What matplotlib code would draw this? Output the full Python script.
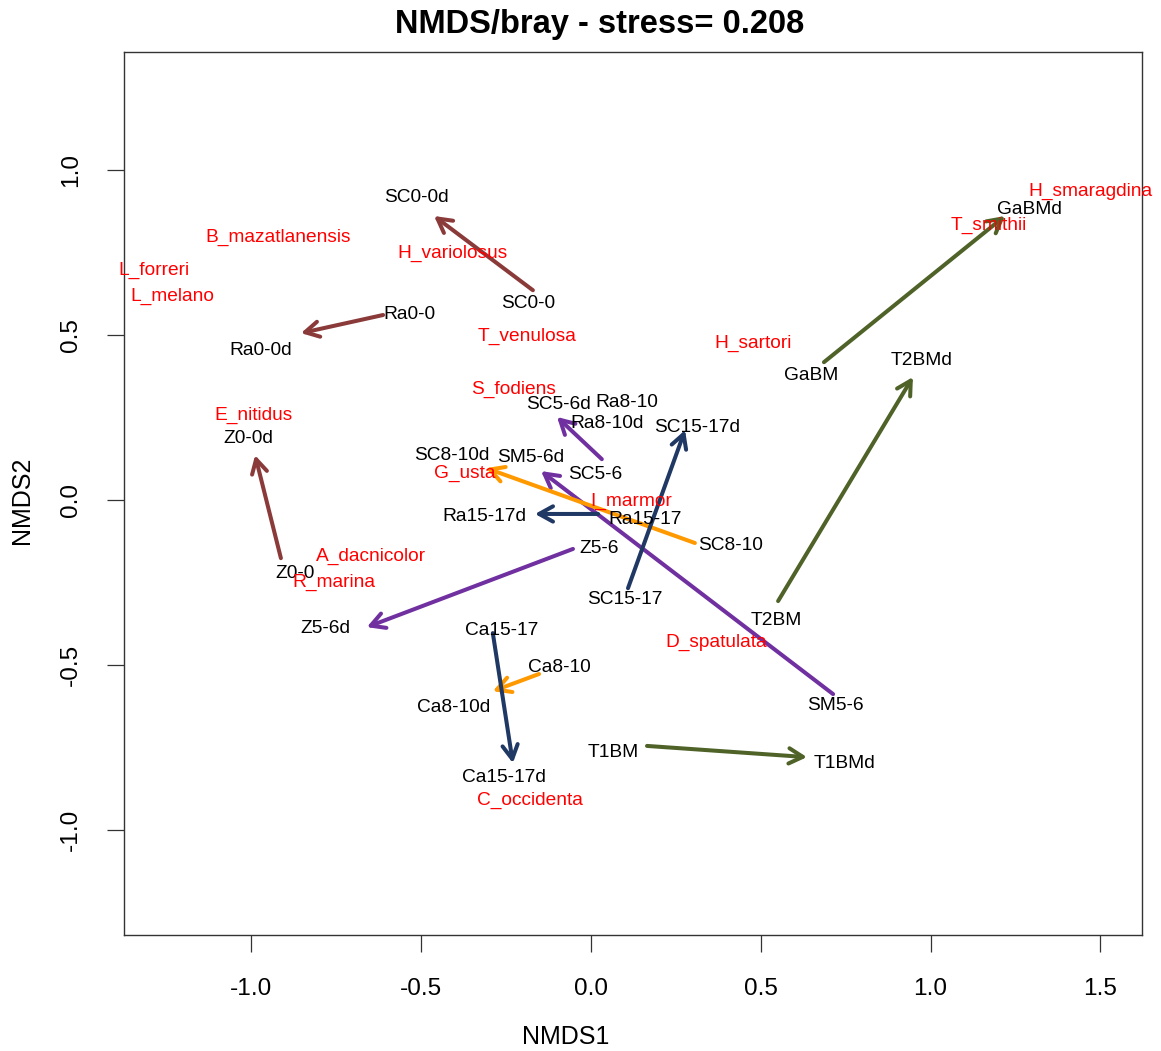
import matplotlib
matplotlib.use("Agg")
import matplotlib.pyplot as plt

plt.rcParams['font.family'] = ['Liberation Sans', 'DejaVu Sans']
plt.rcParams['axes.unicode_minus'] = False

# NMDS site scores (axis 1, axis 2)
site_names = ["SC0-0", "SC0-0d", "Ra0-0", "Ra0-0d", "Z0-0", "Z0-0d",
              "SC5-6", "SC5-6d", "SM5-6", "SM5-6d", "Z5-6", "Z5-6d",
              "SC8-10", "SC8-10d", "Ca8-10", "Ca8-10d", "Ra8-10", "Ra8-10d",
              "Ra15-17", "Ra15-17d", "SC15-17", "SC15-17d", "Ca15-17", "Ca15-17d",
              "GaBM", "GaBMd", "T2BM", "T2BMd", "T1BM", "T1BMd"]
site_x = [-0.171, -0.462, -0.612, -0.854, -0.913, -0.989,
          0.032, -0.100, 0.713, -0.147, -0.053, -0.660,
          0.306, -0.309, -0.153, -0.289, 0.106, 0.047,
          0.021, -0.165, 0.109, 0.277, -0.289, -0.230,
          0.686, 1.219, 0.551, 0.948, 0.165, 0.636]
site_y = [0.636, 0.861, 0.561, 0.506, -0.176, 0.136,
          0.124, 0.252, -0.588, 0.088, -0.148, -0.385,
          -0.130, 0.097, -0.527, -0.579, 0.297, 0.233,
          -0.042, -0.042, -0.267, 0.212, -0.403, -0.797,
          0.418, 0.861, -0.306, 0.373, -0.745, -0.779]

# Species scores
species_names = ["H_smaragdina", "T_smithii", "H_sartori", "B_mazatlanensis",
                 "H_variolosus", "L_forreri", "L_melano", "T_venulosa",
                 "S_fodiens", "E_nitidus", "G_usta", "I_marmor",
                 "A_dacnicolor", "R_marina", "D_spatulata", "C_occidenta"]
species_x = [1.472, 1.172, 0.477, -0.922, -0.409, -1.287, -1.234, -0.188,
             -0.227, -0.995, -0.371, 0.118, -0.648, -0.757, 0.368, -0.180]
species_y = [0.936, 0.833, 0.476, 0.797, 0.748, 0.697, 0.618, 0.497,
             0.336, 0.258, 0.082, -0.003, -0.172, -0.248, -0.430, -0.909]

# Before -> after trajectories, coloured by sampling period
trajectories = [
    ("SC0-0", "SC0-0d", "#8B3A3A"),
    ("Ra0-0", "Ra0-0d", "#8B3A3A"),
    ("Z0-0", "Z0-0d", "#8B3A3A"),
    ("SC5-6", "SC5-6d", "#7030A0"),
    ("SM5-6", "SM5-6d", "#7030A0"),
    ("Z5-6", "Z5-6d", "#7030A0"),
    ("SC8-10", "SC8-10d", "#FF9900"),
    ("Ca8-10", "Ca8-10d", "#FF9900"),
    ("Ra15-17", "Ra15-17d", "#1F3864"),
    ("SC15-17", "SC15-17d", "#1F3864"),
    ("Ca15-17", "Ca15-17d", "#1F3864"),
    ("GaBM", "GaBMd", "#4F6228"),
    ("T2BM", "T2BMd", "#4F6228"),
    ("T1BM", "T1BMd", "#4F6228"),
]

# Label displacement (pixels) so site names do not sit on the arrows
label_offset = {
    "SC0-0": (-5, -13), "SC0-0d": (-18, 18), "Ra0-0": (26, 0), "Ra0-0d": (-40, -17),
    "Z0-0": (14, -15), "Z0-0d": (-7, 17), "SC5-6": (-7, -15), "SC5-6d": (1, 12),
    "SM5-6": (2, -11), "SM5-6d": (-10, 14), "Z5-6": (26, 0), "Z5-6d": (-41, -1),
    "SC8-10": (36, -3), "SC8-10d": (-34, 13), "Ca8-10": (20, 6), "Ca8-10d": (-39, -16),
    "Ra8-10": (0, 0), "Ra8-10d": (0, 0),
    "Ra15-17": (47, -6), "Ra15-17d": (-51, -3), "SC15-17": (-3, -11), "SC15-17d": (12, 3),
    "Ca15-17": (9, 3), "Ca15-17d": (-9, -14), "GaBM": (-13, -13), "GaBMd": (24, 6),
    "T2BM": (-2, -19), "T2BMd": (9, 17), "T1BM": (-34, -7), "T1BMd": (38, -6),
}

W, H = 1161, 1051
fig = plt.figure(figsize=(W / 100, H / 100), dpi=100)
ax = fig.add_axes([124 / W, (H - 935) / H, (1142 - 124) / W, (935 - 52) / H])
ax.set_xlim(-1.375, 1.6225)
ax.set_ylim(-1.318, 1.358)

pos = {n: (x, y) for n, x, y in zip(site_names, site_x, site_y)}

for a, b, col in trajectories:
    ax.annotate("", xy=pos[b], xytext=pos[a],
                arrowprops=dict(arrowstyle="->,head_length=1.0,head_width=0.55",
                                mutation_scale=10, color=col, lw=2.9,
                                shrinkA=0, shrinkB=0), zorder=2)

for n, x, y in zip(site_names, site_x, site_y):
    dx, dy = label_offset[n]
    ax.annotate(n, xy=(x, y), xytext=(dx, dy), textcoords="offset pixels",
                ha="center", va="center", fontsize=13.8, color="black", zorder=3)

for n, x, y in zip(species_names, species_x, species_y):
    ax.text(x, y, n, ha="center", va="center", fontsize=13.8, color="red", zorder=4)

ax.set_xticks([-1.0, -0.5, 0.0, 0.5, 1.0, 1.5])
ax.set_xticklabels(["-1.0", "-0.5", "0.0", "0.5", "1.0", "1.5"], fontsize=17.6)
ax.set_yticks([-1.0, -0.5, 0.0, 0.5, 1.0])
ax.set_yticklabels(["-1.0", "-0.5", "0.0", "0.5", "1.0"], fontsize=17.6,
                   rotation=90, va="center")
ax.tick_params(axis="both", direction="out", length=12, width=0.9, color="#333333")
ax.tick_params(axis="x", pad=19)
ax.tick_params(axis="y", pad=18)
for s in ax.spines.values():
    s.set_color("#333333")
    s.set_linewidth(1.0)

fig.text(600 / W, 1 - 25 / H, "NMDS/bray - stress= 0.208", ha="center", va="center",
         fontsize=23.5, fontweight="bold")
fig.text(566 / W, 1 - 1037 / H, "NMDS1", ha="center", va="center", fontsize=18)
fig.text(22 / W, 1 - 500 / H, "NMDS2", ha="center", va="center", fontsize=18,
         rotation=90)

fig.savefig("out.png", dpi=100)
